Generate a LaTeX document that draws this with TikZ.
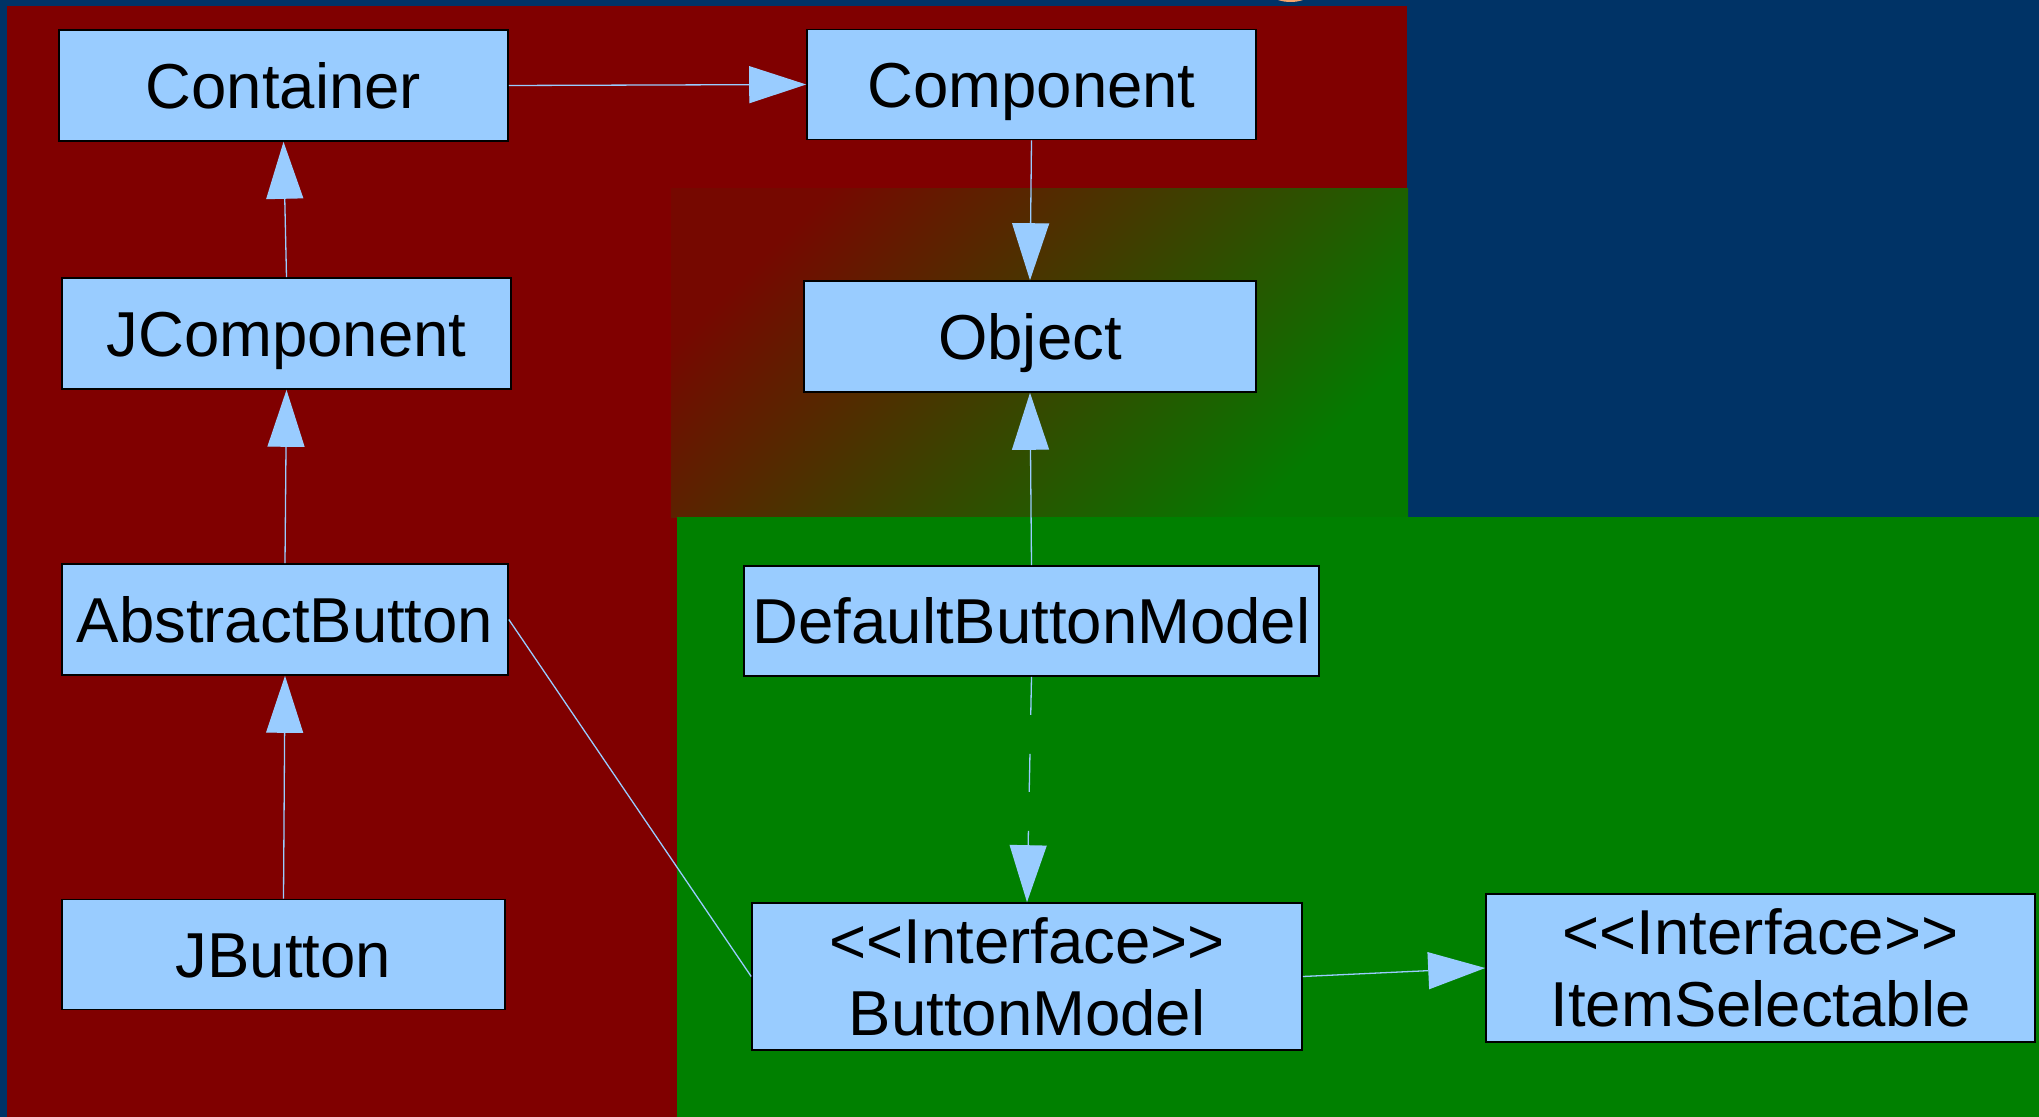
\documentclass[tikz,border=0pt]{standalone}
\usepackage{fontspec}
\setmainfont{Liberation Sans}
\usetikzlibrary{arrows.meta}

\definecolor{bgnavy}{RGB}{0,51,102}
\definecolor{zonered}{RGB}{128,0,0}
\definecolor{zonegreen}{RGB}{0,128,0}
\definecolor{blendred}{RGB}{118,8,0}
\definecolor{blendgreen}{RGB}{4,122,0}
\definecolor{boxblue}{RGB}{153,204,255}
\definecolor{blobfill}{RGB}{245,165,110}

% guillemet-free stereotype marker
\newcommand{\stereo}[1]{<\kern0pt<#1>\kern0pt>}

\tikzset{
  classbox/.style={draw=black, line width=0.8pt, fill=boxblue, inner sep=0pt,
    font=\fontsize{31.75pt}{36pt}\selectfont},
  oneline/.style={classbox, text height=22.7pt, text depth=0pt},
  twoline/.style={classbox, align=center},
  link/.style={draw=boxblue, line width=0.65pt},
  inherits/.style={link, -{Triangle[length=28.5pt,width=18.5pt]}},
  realizes/.style={inherits, dash pattern=on 19pt off 19.5pt},
}

\begin{document}
\begin{tikzpicture}[x=0.5pt,y=-0.5pt]
  \useasboundingbox (0,0) rectangle (2039,1117);

  % background zones
  \fill[bgnavy] (0,0) rectangle (2039,1117);
  \begin{scope}
    \clip (0,0) rectangle (2039,1117);
    \fill[blobfill] (1290.5,-20) ellipse [x radius=30, y radius=22];
  \end{scope}
  \fill[zonered] (7,6) rectangle (1407,1117);
  \shade[top color=blendred, bottom color=blendgreen, shading angle=45]
    (671,189) rectangle (1408,517);
  \fill[zonegreen] (677,517) rectangle (2039,1117);

  % classes
  \node[oneline, minimum width=224.5pt, minimum height=55.5pt] (container) at (283.5,85.5) {Container};
  \node[oneline, minimum width=224.5pt, minimum height=55pt] (component) at (1031.5,84.5) {Component};
  \node[oneline, minimum width=224.5pt, minimum height=55.5pt] (jcomponent) at (286.5,333.5) {JComponent};
  \node[oneline, minimum width=226pt, minimum height=55.5pt] (object) at (1030,336.5) {Object};
  \node[oneline, minimum width=223pt, minimum height=55.5pt] (abstractbutton) at (285,619.5) {AbstractButton};
  \node[oneline, minimum width=287.5pt, minimum height=55pt] (defaultmodel) at (1031.5,621) {DefaultButtonModel};
  \node[oneline, minimum width=221.5pt, minimum height=55pt] (jbutton) at (283.5,954.5) {JButton};
  \node[twoline, minimum width=275pt, minimum height=73.5pt] (buttonmodel) at (1027,976.5) {\stereo{Interface}\\ButtonModel};
  \node[twoline, minimum width=274.5pt, minimum height=74pt] (itemselectable) at (1760.5,968) {\stereo{Interface}\\ItemSelectable};

  % relations
  \draw[inherits] (container.east) -- (component.west);
  \draw[inherits] (component.south) -- (object.north);
  \draw[inherits] (jcomponent.north) -- (container.south);
  \draw[inherits] (abstractbutton.north) -- (jcomponent.south);
  \draw[inherits] (jbutton.north) -- (abstractbutton.south);
  \draw[inherits] (defaultmodel.north) -- (object.south);
  \draw[realizes] (defaultmodel.south) -- (buttonmodel.north);
  \draw[inherits] (buttonmodel.east) -- (itemselectable.west);
  \draw[link] (abstractbutton.east) -- (buttonmodel.west);
\end{tikzpicture}
\end{document}
